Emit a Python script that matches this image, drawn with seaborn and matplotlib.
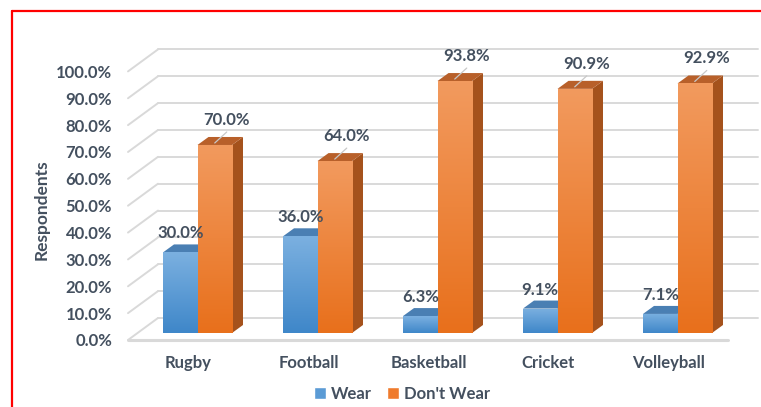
import numpy as np
import pandas as pd
import matplotlib
matplotlib.use("Agg")
import matplotlib.pyplot as plt
import seaborn as sns
from matplotlib.patches import Polygon
from matplotlib.lines import Line2D
from matplotlib.colors import LinearSegmentedColormap
import matplotlib.transforms as mtransforms

# ---- data ----
categories = ["Rugby", "Football", "Basketball", "Cricket", "Volleyball"]
wear = [30.0, 36.0, 6.3, 9.1, 7.1]
dont_wear = [70.0, 64.0, 93.8, 90.9, 92.9]
series_names = ["Wear", "Don't Wear"]
y_ticks = [0, 10, 20, 30, 40, 50, 60, 70, 80, 90, 100]
y_tick_labels = [f"{v:.1f}%" for v in y_ticks]

df = pd.DataFrame({
    "Sport": categories * 2,
    "Series": [series_names[0]] * len(categories) + [series_names[1]] * len(categories),
    "Value": wear + dont_wear,
})

sns.set_theme(style="white")
FONT = ["Lato", "DejaVu Sans"]
plt.rcParams["font.family"] = FONT
TXT = "#44505f"
FS = 12

W, H = 761, 407
fig = plt.figure(figsize=(W / 100, H / 100), dpi=100)
fig.patch.set_facecolor("white")

# bar plane geometry (pixels)
ax_left, ax_right, ax_bottom, ax_top = 137.5, 737.5, 333.0, 64.4
ax = fig.add_axes([ax_left / W, 1 - ax_bottom / H, (ax_right - ax_left) / W, (ax_bottom - ax_top) / H])
ax.set_facecolor("none")

blue, orange = "#5b9bd5", "#ef7b2d"
sns.barplot(data=df, x="Sport", y="Value", hue="Series", order=categories,
            hue_order=series_names, palette=[blue, orange], width=0.575,
            saturation=1, ax=ax, legend=False, edgecolor="none", linewidth=0)
ax.set_xlim(-0.5, 4.5)
ax.set_ylim(0, 100)

px_x = (ax_right - ax_left) / 5.0       # pixels per x unit
px_y = (ax_bottom - ax_top) / 100.0     # pixels per y unit

def dx(p):
    return p / px_x

def dy(p):
    return p / px_y

# offsets: front (label) plane and back wall relative to bar plane
fx, fy = dx(-9.5), dy(-7)
bx, by = dx(20.5), dy(15)

grid_c = "#d9d9d9"
for v in y_ticks:
    ax.add_line(Line2D([-0.5 + bx, 4.5 + bx], [v + by, v + by], color=grid_c, lw=1.4, zorder=0, clip_on=False))
    ax.add_line(Line2D([-0.5 + fx, -0.5 + bx], [v + fy, v + by], color=grid_c, lw=1.4, zorder=0, clip_on=False))
# floor front edge
ax.add_line(Line2D([-0.5 + fx, 4.5 + fx], [fy, fy], color=grid_c, lw=2.2, zorder=0, clip_on=False))

# 3D faces and gradients
ddx, ddy = dx(11), dy(8)
face_cols = {
    0: dict(top="#4a7fb3", side="#3d6f9f", grad=["#7bb0e0", "#3f87c9"]),
    1: dict(top="#b8602a", side="#a5521c", grad=["#f29a5e", "#e8701c"]),
}
for si, cont in enumerate(ax.containers):
    base_z = 2 + si * 3
    cols = face_cols[si]
    cmap = LinearSegmentedColormap.from_list("g", cols["grad"])
    for bar in cont.patches:
        x0 = bar.get_x()
        w = bar.get_width()
        h = bar.get_height()
        x1 = x0 + w
        top = Polygon([[x0, h], [x1, h], [x1 + ddx, h + ddy], [x0 + ddx, h + ddy]],
                      closed=True, facecolor=cols["top"], edgecolor="none", zorder=base_z, clip_on=False)
        side = Polygon([[x1, 0], [x1 + ddx, ddy], [x1 + ddx, h + ddy], [x1, h]],
                       closed=True, facecolor=cols["side"], edgecolor="none", zorder=base_z, clip_on=False)
        ax.add_patch(side)
        ax.add_patch(top)
        bar.set_zorder(base_z + 1)
        grad = np.linspace(0, 1, 64).reshape(-1, 1)
        im = ax.imshow(grad, extent=[x0, x1, 0, h], origin="upper", aspect="auto",
                       cmap=cmap, zorder=base_z + 1.5, interpolation="bicubic")
        im.set_clip_path(bar)

ax.set_xlim(-0.5, 4.5)
ax.set_ylim(0, 100)

# data labels
lab_kw = dict(fontsize=FS, fontweight="bold", color=TXT, family=FONT, zorder=20)
for bar, v in zip(ax.containers[0].patches, wear):
    cx = bar.get_x() + bar.get_width() / 2
    ax.text(cx, v + dy(19), f"{v:.1f}%", ha="center", va="center", clip_on=False, **lab_kw)
for bar, v in zip(ax.containers[1].patches, dont_wear):
    cx = bar.get_x() + bar.get_width() / 2
    tx, ty = cx + dx(12), v + dy(25)
    ax.text(tx, ty, f"{v:.1f}%", ha="center", va="center", clip_on=False, **lab_kw)
    ax.add_line(Line2D([cx, cx + dx(12)], [v + dy(2), v + dy(13)], color="#c8c8c8", lw=0.9, zorder=19, clip_on=False))

# axes ticks
ax.set_yticks(y_ticks)
ax.set_yticklabels(y_tick_labels)
ax.tick_params(axis="y", length=0, pad=(ax_left - 112) * 0.72)
ax.tick_params(axis="x", length=0, pad=16)
shift_y = mtransforms.ScaledTranslation(0, -7 / 100, fig.dpi_scale_trans)
for lab in ax.get_yticklabels():
    lab.set_transform(lab.get_transform() + shift_y)
    lab.set_fontsize(FS)
    lab.set_fontweight("bold")
    lab.set_color(TXT)
shift_x = mtransforms.ScaledTranslation(-9 / 100, 0, fig.dpi_scale_trans)
for lab in ax.get_xticklabels():
    lab.set_transform(lab.get_transform() + shift_x)
    lab.set_fontsize(FS)
    lab.set_fontweight("bold")
    lab.set_color(TXT)
ax.set_xlabel("")
ax.set_ylabel("")
for s in ax.spines.values():
    s.set_visible(False)

fig.text(42 / W, 1 - 210 / H, "Respondents", rotation=90, ha="center", va="center",
         fontsize=12.5, fontweight="bold", color=TXT)

# legend
handles = [plt.Rectangle((0, 0), 1, 1, facecolor=blue), plt.Rectangle((0, 0), 1, 1, facecolor=orange)]
fig.legend(handles, series_names, loc="center", bbox_to_anchor=(402 / W, 1 - 394 / H), ncol=2,
           frameon=False, handlelength=0.7, handleheight=0.7, handletextpad=0.3, columnspacing=0.9,
           prop=dict(family=FONT, weight="bold", size=FS), labelcolor=TXT)

# red frame
fig.add_artist(Line2D([12 / W, 1], [1 - 11 / H, 1 - 11 / H], color="red", lw=1.6, transform=fig.transFigure))
fig.add_artist(Line2D([12 / W, 12 / W], [0, 1 - 11 / H], color="red", lw=1.6, transform=fig.transFigure))

fig.savefig("out.png", dpi=100)
